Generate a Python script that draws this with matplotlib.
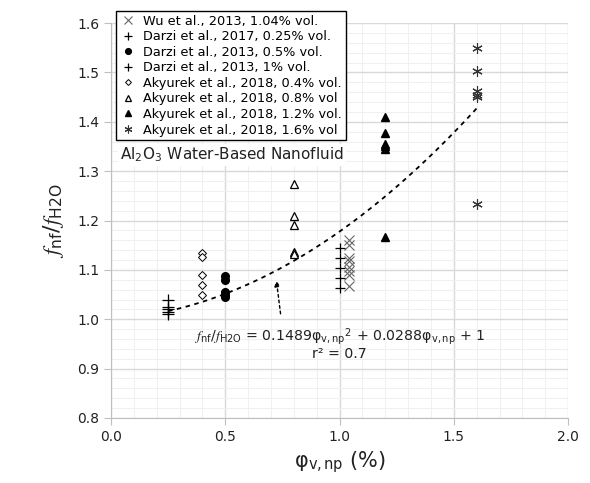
import matplotlib
matplotlib.use("Agg")
import matplotlib.pyplot as plt
import numpy as np
from matplotlib.ticker import MultipleLocator

plt.rcParams['font.family'] = ['DejaVu Sans']
plt.rcParams['mathtext.fontset'] = 'custom'
plt.rcParams['mathtext.rm'] = 'DejaVu Sans'
plt.rcParams['mathtext.it'] = 'STIXGeneral:italic'
plt.rcParams['mathtext.bf'] = 'DejaVu Sans:bold'

# ---- data ----
wu_x = [1.04] * 8
wu_y = [1.16, 1.15, 1.125, 1.118, 1.105, 1.097, 1.09, 1.067]

darzi17_x = [0.25] * 5
darzi17_y = [1.04, 1.025, 1.02, 1.015, 1.01]

darzi13a_x = [0.5] * 5
darzi13a_y = [1.087, 1.08, 1.055, 1.05, 1.045]

darzi13b_x = [1.0] * 5
darzi13b_y = [1.145, 1.125, 1.103, 1.083, 1.064]

aky04_x = [0.4] * 5
aky04_y = [1.135, 1.127, 1.09, 1.07, 1.05]

aky08_x = [0.8] * 5
aky08_y = [1.273, 1.21, 1.19, 1.137, 1.132]

aky12_x = [1.2] * 6
aky12_y = [1.41, 1.378, 1.355, 1.35, 1.345, 1.167]

aky16_x = [1.6] * 6
aky16_y = [1.55, 1.503, 1.462, 1.455, 1.45, 1.233]

fit_a, fit_b, fit_c = 0.1489, 0.0288, 1.0
fit_range = [0.25, 1.6]

x_ticks = [0.0, 0.5, 1.0, 1.5, 2.0]
y_ticks = [0.8, 0.9, 1.0, 1.1, 1.2, 1.3, 1.4, 1.5, 1.6]

fig = plt.figure(figsize=(5.9, 4.83), dpi=100)
ax = fig.add_axes([0.188, 0.1346, 0.775, 0.8177])

ax.set_xlim(0, 2.0)
ax.set_ylim(0.8, 1.6)
ax.set_xticks(x_ticks)
ax.set_yticks(y_ticks)
ax.set_xticklabels([f"{v:.1f}" for v in x_ticks])
ax.set_yticklabels([f"{v:.1f}" for v in y_ticks])
ax.xaxis.set_minor_locator(MultipleLocator(0.1))
ax.yaxis.set_minor_locator(MultipleLocator(0.02))
ax.grid(which='major', color='#d9d9d9', lw=1.0, zorder=0)
ax.grid(which='minor', color='#f0f0f0', lw=0.8, zorder=0)
ax.set_axisbelow(True)
for s in ['top', 'right']:
    ax.spines[s].set_visible(False)
for s in ['left', 'bottom']:
    ax.spines[s].set_color('#bfbfbf')
ax.tick_params(which='major', length=5, color='#bfbfbf', labelsize=10, labelcolor='#222222')
ax.tick_params(which='minor', length=0)

kw = dict(linestyle='none')
ax.plot(wu_x, wu_y, marker='x', ms=7, mew=0.8, color='#666666', label='Wu et al., 2013, 1.04% vol.', **kw)
ax.plot(darzi17_x, darzi17_y, marker='+', ms=8, mew=0.9, color='black', label='Darzi et al., 2017, 0.25% vol.', **kw)
ax.plot(darzi13a_x, darzi13a_y, marker='o', ms=5.5, color='black', label='Darzi et al., 2013, 0.5% vol.', **kw)
ax.plot(darzi13b_x, darzi13b_y, marker='+', ms=7.5, mew=0.9, color='black', label='Darzi et al., 2013, 1% vol.', **kw)
ax.plot(aky04_x, aky04_y, marker='D', ms=4, mfc='white', mec='black', mew=0.7, label='Akyurek et al., 2018, 0.4% vol.', **kw)
ax.plot(aky08_x, aky08_y, marker='^', ms=5.8, mfc='white', mec='black', mew=0.9, label='Akyurek et al., 2018, 0.8% vol', **kw)
ax.plot(aky12_x, aky12_y, marker='^', ms=5.8, color='black', label='Akyurek et al., 2018, 1.2% vol.', **kw)
ax.plot(aky16_x, aky16_y, marker=(6, 2, 0), ms=7.5, mew=0.8, color='#333333', label='Akyurek et al., 2018, 1.6% vol', **kw)

xf = np.linspace(fit_range[0], fit_range[1], 100)
ax.plot(xf, fit_a * xf**2 + fit_b * xf + fit_c, linestyle=(0, (2.5, 2.5)), color='black', lw=1.3, zorder=3)

ax.annotate('', xy=(0.724, 1.078), xytext=(0.742, 1.011),
            arrowprops=dict(arrowstyle='-|>', linestyle=(0, (2, 2)), color='black', lw=1.0,
                            mutation_scale=8, shrinkA=0, shrinkB=0))

ax.text(1.0, 0.963, r'$f_{\mathrm{nf}}/f_{\mathrm{H2O}}$ = 0.1489$\mathrm{φ}_{\mathrm{v,np}}$$^2$ + 0.0288$\mathrm{φ}_{\mathrm{v,np}}$ + 1',
        ha='center', va='center', fontsize=10.2, color='#222222')
ax.text(1.0, 0.929, 'r² = 0.7', ha='center', va='center', fontsize=10.2, color='#222222')

ax.text(0.528, 1.333, r'Al$_2$O$_3$ Water-Based Nanofluid', ha='center', va='center', fontsize=11,
        color='#222222', bbox=dict(facecolor='white', edgecolor='none', pad=1.5), zorder=5)

leg = fig.legend(loc='upper left', bbox_to_anchor=(0.197, 0.978), fontsize=9.3, frameon=True,
                 fancybox=False, edgecolor='black', framealpha=1, borderpad=0.3, labelspacing=0.2,
                 handlelength=1.2, handletextpad=0.6, borderaxespad=0, markerscale=0.75)
leg.get_frame().set_linewidth(1.0)

ax.set_ylabel(r'$f_{\mathrm{nf}}/f_{\mathrm{H2O}}$', fontsize=16, color='#222222', labelpad=8)
ax.set_xlabel(r'$\mathrm{φ}_{\mathrm{v,np}}$ (%)', fontsize=15, color='#222222', labelpad=4)

fig.savefig('out.png', dpi=100)
